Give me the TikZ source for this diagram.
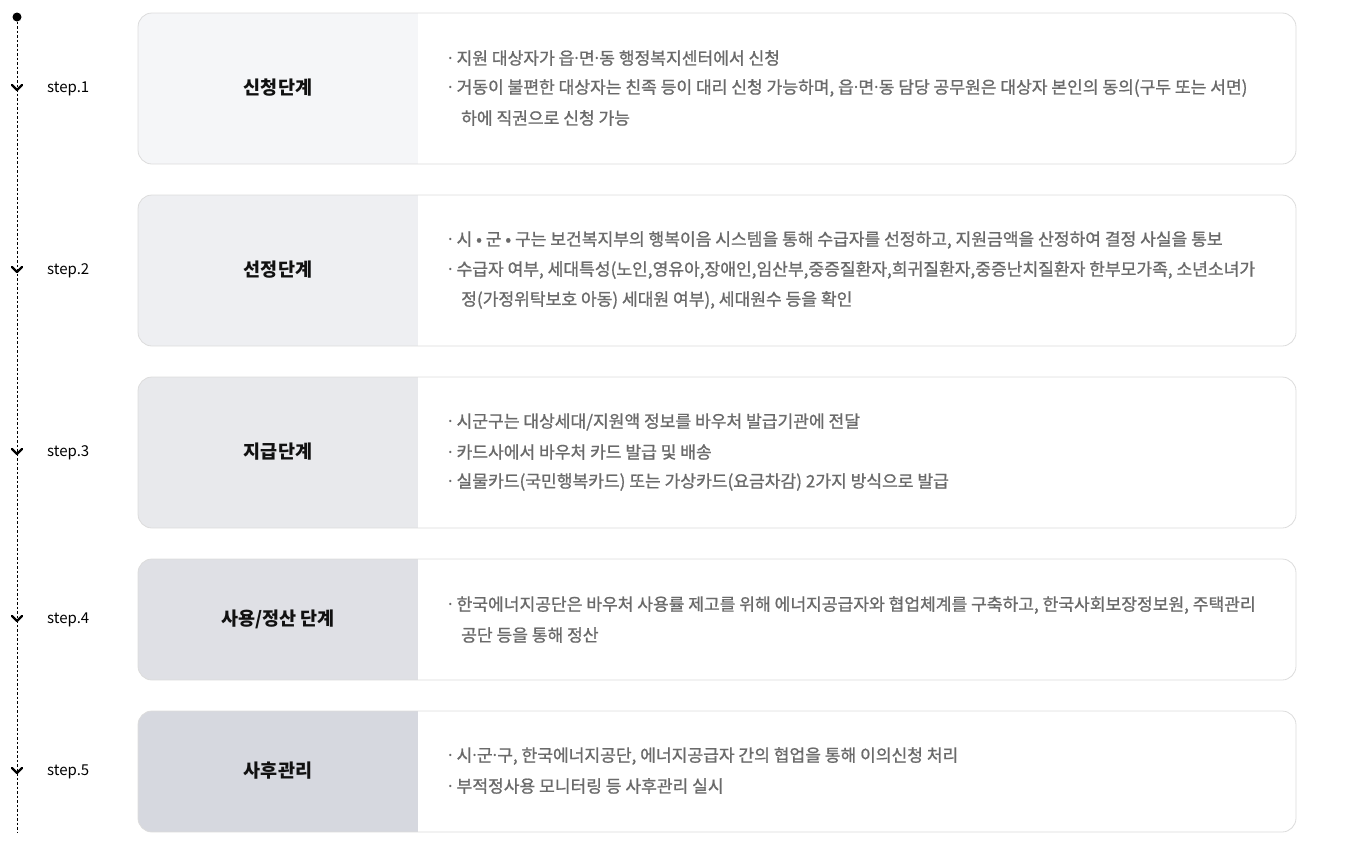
\documentclass[tikz,border=0pt]{standalone}
\usepackage{fontspec}
\setmainfont{Noto Sans CJK KR}
\newfontfamily\bodyfont[FakeBold=1.0]{Noto Sans CJK KR}
\newfontfamily\dotfont{Noto Sans}
\usetikzlibrary{positioning}
\definecolor{panelA}{HTML}{F5F6F8}
\definecolor{panelB}{HTML}{EEEFF2}
\definecolor{panelC}{HTML}{E8E9EC}
\definecolor{panelD}{HTML}{DFE0E5}
\definecolor{panelE}{HTML}{D6D8DF}
\definecolor{frameline}{HTML}{DCDCDC}
\definecolor{bodygray}{HTML}{6A6A6A}
\definecolor{titleblack}{HTML}{111111}
\newcommand{\md}{{\dotfont\textperiodcentered}}

\begin{document}
\begin{tikzpicture}[x=1pt, y=-1pt]
			\tikzstyle{stagetitle}=[font=\bfseries\fontsize{18.5}{22}\selectfont, text=titleblack, inner sep=0pt]
			\tikzstyle{bullet}=[anchor=west, font=\bodyfont\fontsize{17.1}{20}\selectfont, text=bodygray, inner sep=0pt]
			\tikzstyle{steplabel}=[anchor=west, font=\fontsize{15}{17}\selectfont, text=black, inner sep=0pt]
			\tikzstyle{chevron}=[line width=2.4pt, line cap=round, line join=round]
			\useasboundingbox (0,0) rectangle (1346,849);
			%% boxes: top/bottom/panel colour
			\foreach \top/\bot/\col in {13/164/panelA, 195/346/panelB, 377/528/panelC, 559/680/panelD, 711/832/panelE}{
				\fill[white, rounded corners=14pt] (138,\top) rectangle (1296,\bot);
				\begin{scope}
					\clip[rounded corners=14pt] (138,\top) rectangle (1296,\bot);
					\fill[\col] (138,\top) rectangle (418,\bot);
				\end{scope}
				\draw[frameline, line width=0.8pt, rounded corners=14pt] (138,\top) rectangle (1296,\bot);
			}
			%% time line
			\coordinate (ltop) at (17,17);
			\coordinate (lbot) at (17,832);
			\draw[line width=0.9pt, dash pattern=on 2.5pt off 2pt] (ltop) -- (lbot);
			\fill (ltop) circle (4.5pt);
			\foreach \y in {88, 270, 452, 619, 771}{
				\draw[chevron] (12,\y-3) -- (17,\y+2) -- (22,\y-3);
			}
			%% step labels
			\node (s1) at (47,89) [steplabel] {step.1};
			\node (s2) at (47,271) [steplabel] {step.2};
			\node (s3) at (47,453) [steplabel] {step.3};
			\node (s4) at (47,620) [steplabel] {step.4};
			\node (s5) at (47,772) [steplabel] {step.5};
			%% stage titles
			\node (t1) at (278,88) [stagetitle] {신청단계};
			\node (t2) at (278,270) [stagetitle] {선정단계};
			\node (t3) at (278,452) [stagetitle] {지급단계};
			\node (t4) at (278,619) [stagetitle] {사용/정산 단계};
			\node (t5) at (278,771) [stagetitle] {사후관리};
			%% contents
			\node (b11) at (448,58) [bullet] {\md\ 지원 대상자가 읍\md 면\md 동 행정복지센터에서 신청};
			\node (b12) at (448,88) [bullet] {\md\ 거동이 불편한 대상자는 친족 등이 대리 신청 가능하며, 읍\md 면\md 동 담당 공무원은 대상자 본인의 동의(구두 또는 서면)};
			\node (b13) at (461,118) [bullet] {하에 직권으로 신청 가능};
			
			\node (b21) at (448,240) [bullet] {\md\ 시 • 군 • 구는 보건복지부의 행복이음 시스템을 통해 수급자를 선정하고, 지원금액을 산정하여 결정 사실을 통보};
			\node (b22) at (448,270) [bullet] {\md\ 수급자 여부, 세대특성(노인,영유아,장애인,임산부,중증질환자,희귀질환자,중증난치질환자 한부모가족, 소년소녀가};
			\node (b23) at (461,300) [bullet] {정(가정위탁보호 아동) 세대원 여부), 세대원수 등을 확인};
			
			\node (b31) at (448,422) [bullet] {\md\ 시군구는 대상세대/지원액 정보를 바우처 발급기관에 전달};
			\node (b32) at (448,452) [bullet] {\md\ 카드사에서 바우처 카드 발급 및 배송};
			\node (b33) at (448,482) [bullet] {\md\ 실물카드(국민행복카드) 또는 가상카드(요금차감) 2가지 방식으로 발급};
			
			\node (b41) at (448,605) [bullet] {\md\ 한국에너지공단은 바우처 사용률 제고를 위해 에너지공급자와 협업체계를 구축하고, 한국사회보장정보원, 주택관리};
			\node (b42) at (461,635) [bullet] {공단 등을 통해 정산};
			
			\node (b51) at (448,756) [bullet] {\md\ 시\md 군\md 구, 한국에너지공단, 에너지공급자 간의 협업을 통해 이의신청 처리};
			\node (b52) at (448,786) [bullet] {\md\ 부적정사용 모니터링 등 사후관리 실시};
\end{tikzpicture}
\end{document}
